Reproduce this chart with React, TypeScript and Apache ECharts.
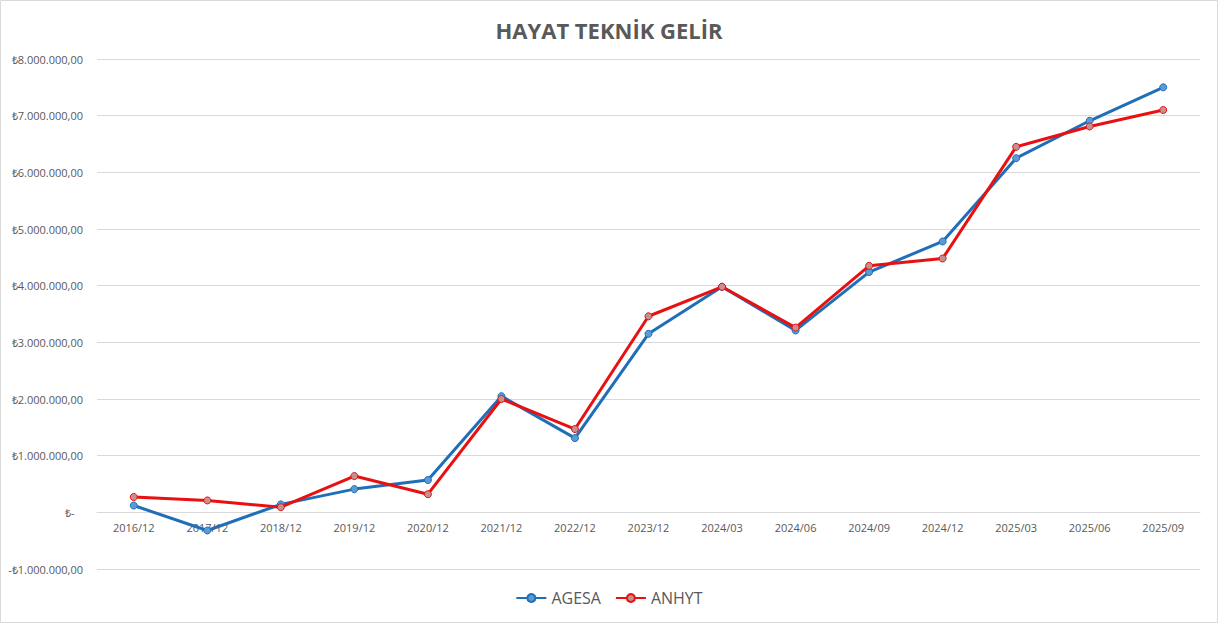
import React, { useEffect, useRef } from "react";
import * as echarts from "echarts";

const categories = ["2016/12","2017/12","2018/12","2019/12","2020/12","2021/12","2022/12","2023/12","2024/03","2024/06","2024/09","2024/12","2025/03","2025/06","2025/09"];
const agesa = [120000,-320000,140000,410000,570000,2050000,1310000,3150000,3980000,3210000,4240000,4780000,6250000,6910000,7500000];
const anhyt = [270000,210000,90000,640000,320000,2000000,1470000,3460000,3980000,3260000,4350000,4480000,6450000,6810000,7100000];
const yMin = -1000000;
const yMax = 8000000;
const yStep = 1000000;

function fmt(v: number): string {
  if (v === 0) return "₺-   ";
  const s = Math.abs(v).toFixed(0).replace(/\B(?=(\d{3})+(?!\d))/g, ".");
  return (v < 0 ? "-" : "") + "₺" + s + ",00";
}

export default function App() {
  const ref = useRef<HTMLDivElement>(null);
  useEffect(() => {
    const chart = echarts.init(ref.current!, null, { renderer: "svg" });
    const font = "'Open Sans', 'Liberation Sans', sans-serif";
    const W = 1218, H = 623;
    const gTop = 59, gBottom = 54;
    const gH = H - gTop - gBottom;
    const zeroOffset = gH * (0 - yMin) / (yMax - yMin);
    chart.setOption({
      animation: false,
      backgroundColor: "#ffffff",
      title: {
        text: "HAYAT TEKNİK GELİR",
        left: "center",
        top: 14,
        textStyle: { fontFamily: font, fontSize: 22, fontWeight: "bold", color: "#595959" },
      },
      graphic: [
        { type: "rect", shape: { x: 0.5, y: 0.5, width: W - 1, height: H - 1 }, style: { fill: "none", stroke: "#d9d9d9", lineWidth: 1 }, silent: true },
      ],
      legend: {
        bottom: 12,
        left: "center",
        itemWidth: 30,
        itemHeight: 10,
        itemGap: 14,
        textStyle: { fontFamily: font, fontSize: 16, color: "#595959" },
        data: ["AGESA", "ANHYT"],
      },
      grid: { left: 97, right: 18, top: gTop, bottom: gBottom, containLabel: false },
      xAxis: {
        type: "category",
        data: categories,
        boundaryGap: true,
        position: "bottom",
        offset: -zeroOffset,
        axisLine: { onZero: false, lineStyle: { color: "#d9d9d9", width: 1 } },
        axisTick: { show: false },
        axisLabel: { fontFamily: font, fontSize: 11, color: "#595959", margin: 10 },
      },
      yAxis: {
        type: "value",
        min: yMin,
        max: yMax,
        interval: yStep,
        axisLine: { show: false },
        axisTick: { show: false },
        splitLine: { lineStyle: { color: "#d9d9d9", width: 1 } },
        axisLabel: { fontFamily: font, fontSize: 11, color: "#595959", margin: 14, formatter: (v: number) => fmt(v) },
      },
      series: [
        {
          name: "AGESA",
          type: "line",
          data: agesa,
          symbol: "circle",
          symbolSize: 7,
          lineStyle: { color: "#1f6fb8", width: 3 },
          itemStyle: { color: "#5b9bd5", borderColor: "#1f6fb8", borderWidth: 1 },
          z: 3,
        },
        {
          name: "ANHYT",
          type: "line",
          data: anhyt,
          symbol: "circle",
          symbolSize: 7,
          lineStyle: { color: "#e81010", width: 3 },
          itemStyle: { color: "#c49090", borderColor: "#e81010", borderWidth: 1 },
          z: 4,
        },
      ],
    });
    return () => chart.dispose();
  }, []);
  return <div ref={ref} style={{ position: "fixed", left: 0, top: 0, width: 1218, height: 623 }} />;
}
